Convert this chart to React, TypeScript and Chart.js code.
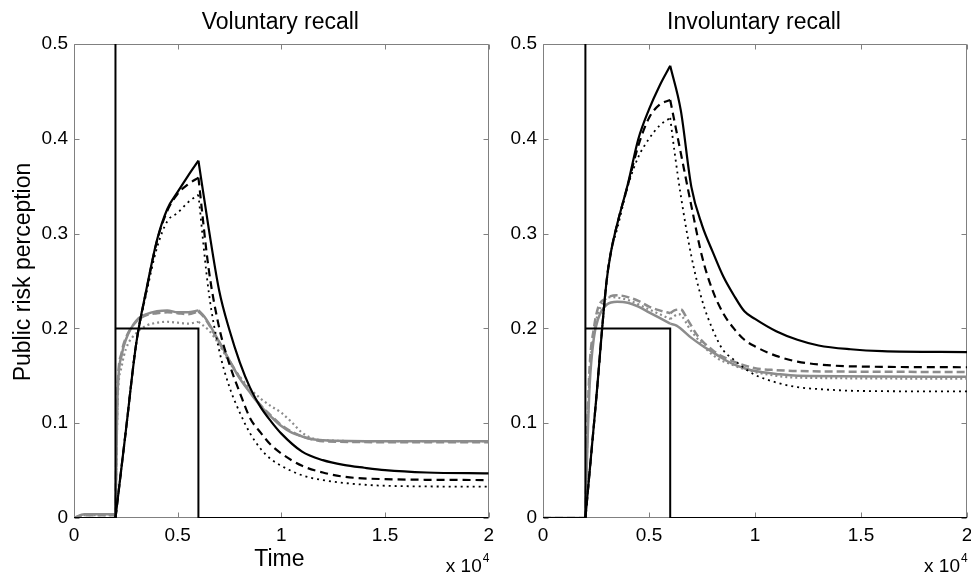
import React, { useEffect, useRef } from 'react';
import { Chart, registerables } from 'chart.js';

Chart.register(...registerables);

// ---------- text & ticks ----------
const panelTitles = ['Voluntary recall', 'Involuntary recall'];
const yAxisTitle = 'Public risk perception';
const xAxisTitle = 'Time';
const xTickValues = [0, 5000, 10000, 15000, 20000];
const xTickLabels = ['0', '0.5', '1', '1.5', '2'];
const yTickValues = [0, 0.1, 0.2, 0.3, 0.4, 0.5];
const yTickLabels = ['0', '0.1', '0.2', '0.3', '0.4', '0.5'];

// ---------- data: [time, perception] ----------
const stepSignal: [number, number][] = [
  [0, 0], [2000, 0], [2000, 0.6], [2000, 0.2], [6000, 0.2], [6000, 0], [20000, 0],
];
// times where the curves have a sharp corner (event start / end)
const cornerTimes = [2000, 6000];

// Voluntary recall
const volBlackSolid: [number, number][] = [
  [0, 0], [2000, 0], [2500, 0.092], [3000, 0.184], [3500, 0.242], [4000, 0.293], [4500, 0.326],
  [5000, 0.344], [5500, 0.361], [6000, 0.377], [6500, 0.305], [7000, 0.24], [7500, 0.198],
  [8000, 0.164], [8500, 0.137], [9000, 0.117], [9500, 0.102], [10000, 0.089], [11000, 0.07],
  [12000, 0.061], [13000, 0.056], [14000, 0.053], [15000, 0.0505], [17000, 0.048], [20000, 0.047],
];
const volBlackDashed: [number, number][] = [
  [0, 0], [2000, 0], [2500, 0.092], [3000, 0.184], [3500, 0.241], [4000, 0.292], [4500, 0.324],
  [5000, 0.342], [5500, 0.352], [6000, 0.359], [6500, 0.262], [7000, 0.201], [7500, 0.162],
  [8000, 0.132], [8500, 0.105], [9000, 0.09], [9500, 0.077], [10000, 0.068], [11000, 0.055],
  [12000, 0.048], [13000, 0.0436], [15000, 0.041], [20000, 0.04],
];
const volBlackDotted: [number, number][] = [
  [0, 0], [2000, 0], [2500, 0.092], [3000, 0.184], [3500, 0.238], [4000, 0.285], [4500, 0.313],
  [5000, 0.322], [5500, 0.333], [6000, 0.341], [6500, 0.238], [7000, 0.177], [7500, 0.138],
  [8000, 0.111], [8500, 0.089], [9000, 0.073], [9500, 0.062], [10000, 0.055], [11000, 0.045],
  [12000, 0.04], [13000, 0.037], [15000, 0.034], [20000, 0.033],
];
const volGraySolid: [number, number][] = [
  [0, 0], [500, 0.004], [2000, 0.004], [2050, 0.07], [2100, 0.13], [2300, 0.172], [2500, 0.188],
  [3000, 0.208], [3500, 0.215], [4000, 0.218], [4500, 0.219], [5000, 0.217], [5500, 0.217],
  [6000, 0.219], [6300, 0.212], [7000, 0.186], [7500, 0.166], [8000, 0.147], [8500, 0.132],
  [9000, 0.118], [9500, 0.107], [10000, 0.097], [10500, 0.09], [11000, 0.086], [11500, 0.083],
  [12000, 0.082], [15000, 0.081], [20000, 0.081],
];
const volGrayDashed: [number, number][] = [
  [0, 0], [500, 0.003], [2000, 0.003], [2050, 0.08], [2100, 0.135], [2300, 0.175], [2500, 0.19],
  [3000, 0.207], [3500, 0.214], [4000, 0.216], [4500, 0.217], [5000, 0.216], [5500, 0.215],
  [6000, 0.218], [6300, 0.211], [7000, 0.185], [7500, 0.166], [8000, 0.148], [8500, 0.133],
  [9000, 0.119], [9500, 0.108], [10000, 0.098], [10500, 0.091], [11000, 0.086], [11500, 0.083],
  [12000, 0.081], [15000, 0.08], [20000, 0.08],
];
const volGrayDotted: [number, number][] = [
  [0, 0], [500, 0.003], [2000, 0.003], [2050, 0.06], [2100, 0.12], [2300, 0.16], [2500, 0.178],
  [3000, 0.195], [3500, 0.203], [4000, 0.206], [4500, 0.207], [5000, 0.206], [5500, 0.205],
  [6000, 0.207], [6500, 0.198], [7000, 0.183], [7500, 0.164], [8000, 0.149], [8500, 0.136],
  [9000, 0.126], [9500, 0.118], [10000, 0.111], [10500, 0.101], [11000, 0.09], [11500, 0.084],
  [12000, 0.082], [15000, 0.081], [20000, 0.081],
];

// Involuntary recall
const invBlackSolid: [number, number][] = [
  [0, 0], [2000, 0], [2500, 0.123], [3000, 0.25], [3200, 0.28], [3500, 0.31], [4000, 0.352],
  [4500, 0.4], [5000, 0.431], [5500, 0.456], [6000, 0.477], [6500, 0.43], [7000, 0.349],
  [7500, 0.309], [8000, 0.281], [8500, 0.255], [9000, 0.235], [9500, 0.218], [10000, 0.21],
  [11000, 0.197], [12000, 0.188], [13000, 0.182], [14500, 0.178], [16000, 0.176], [20000, 0.175],
];
const invBlackDashed: [number, number][] = [
  [0, 0], [2000, 0], [2500, 0.123], [3000, 0.25], [3200, 0.28], [3500, 0.31], [4000, 0.351],
  [4500, 0.393], [5000, 0.422], [5500, 0.436], [6000, 0.441], [6500, 0.385], [7000, 0.329],
  [7500, 0.276], [8000, 0.24], [8500, 0.216], [9000, 0.2], [9500, 0.188], [10000, 0.181],
  [11000, 0.171], [12000, 0.165], [13000, 0.162], [14500, 0.16], [20000, 0.159],
];
const invBlackDotted: [number, number][] = [
  [0, 0], [2000, 0], [2500, 0.123], [3000, 0.25], [3200, 0.28], [3500, 0.305], [4000, 0.35],
  [4500, 0.381], [5000, 0.4], [5500, 0.414], [6000, 0.422], [6200, 0.387], [6500, 0.34],
  [7000, 0.276], [7500, 0.23], [8000, 0.199], [8500, 0.177], [9000, 0.167], [9500, 0.158],
  [10000, 0.151], [11000, 0.143], [12000, 0.138], [13000, 0.136], [15000, 0.134], [20000, 0.1335],
];
const invGraySolid: [number, number][] = [
  [0, 0], [2000, 0], [2100, 0.08], [2200, 0.14], [2400, 0.19], [2600, 0.21], [3000, 0.225],
  [3500, 0.228], [4000, 0.227], [4500, 0.223], [5000, 0.217], [5500, 0.211], [6000, 0.205],
  [6300, 0.203], [7000, 0.19], [7500, 0.182], [8000, 0.175], [8500, 0.168], [9000, 0.162],
  [9500, 0.158], [10000, 0.155], [11000, 0.152], [12000, 0.15], [20000, 0.149],
];
const invGrayDashed: [number, number][] = [
  [0, 0], [2000, 0], [2100, 0.1], [2200, 0.16], [2400, 0.2], [2600, 0.222], [3000, 0.232],
  [3500, 0.235], [4000, 0.233], [4500, 0.229], [5000, 0.223], [5500, 0.219], [6000, 0.216],
  [6200, 0.219], [6500, 0.22], [6800, 0.21], [7300, 0.192], [8000, 0.177], [8500, 0.17],
  [9000, 0.165], [9500, 0.161], [10000, 0.158], [11000, 0.156], [12000, 0.155], [20000, 0.154],
];
const invGrayDotted: [number, number][] = [
  [0, 0], [2000, 0], [2100, 0.09], [2200, 0.15], [2400, 0.195], [2700, 0.222], [3200, 0.233],
  [4000, 0.23], [5000, 0.22], [6000, 0.21], [6400, 0.215], [7000, 0.197], [8000, 0.172],
  [9000, 0.161], [10000, 0.154], [11000, 0.15], [12000, 0.148], [20000, 0.147],
];

// ---------- styles ----------
const FONT = "'Liberation Sans', Arial, Helvetica, sans-serif";
const BLACK = '#000000';
const GRAY = '#8c8c8c';
const AXIS = '#808080';

// split a series at its corner times so each piece is drawn smooth but corners stay sharp
function splitAtCorners(pairs: [number, number][]) {
  const pieces: [number, number][][] = [];
  let cur: [number, number][] = [];
  pairs.forEach((pt, i) => {
    cur.push(pt);
    const next = pairs[i + 1];
    const isCorner = cornerTimes.includes(pt[0]) && next && next[0] !== pt[0];
    if (isCorner && cur.length > 1) {
      pieces.push(cur);
      cur = [pt];
    }
  });
  if (cur.length > 1) pieces.push(cur);
  return pieces;
}

function lineSet(pairs: [number, number][], color: string, width: number, dash: number[], smooth: boolean) {
  return {
    data: pairs.map(([x, y]) => ({ x, y })),
    borderColor: color,
    backgroundColor: color,
    borderWidth: width,
    borderDash: dash,
    borderCapStyle: 'butt',
    borderJoinStyle: 'miter',
    pointRadius: 0,
    pointHoverRadius: 0,
    tension: 0,
    cubicInterpolationMode: smooth ? 'monotone' : 'default',
    fill: false,
  };
}

function curveSets(pairs: [number, number][], color: string, width: number, dash: number[]) {
  return splitAtCorners(pairs).map((piece) => lineSet(piece, color, width, dash, true));
}

function buildSets(bs: any, bd: any, bo: any, gs: any, gd: any, go: any) {
  return [
    lineSet(stepSignal, BLACK, 2, [], false),
    ...curveSets(bs, BLACK, 2.2, []),
    ...curveSets(bd, BLACK, 2.2, [8, 5]),
    ...curveSets(bo, BLACK, 1.8, [2, 4]),
    ...curveSets(gs, GRAY, 2.5, []),
    ...curveSets(gd, GRAY, 2.5, [8, 4]),
    ...curveSets(go, GRAY, 2.2, [2, 3]),
  ];
}

const decorPlugin = {
  id: 'decor',
  beforeDatasetsDraw(chart: any) {
    const { ctx, chartArea: a, scales } = chart;
    const L = Math.round(a.left) + 0.5;
    const R = Math.round(a.right) - 0.5;
    const T = Math.round(a.top) + 0.5;
    const B = Math.round(a.bottom) - 0.5;
    ctx.save();
    ctx.strokeStyle = AXIS;
    ctx.lineWidth = 1;
    ctx.beginPath();
    ctx.rect(L, T, R - L, B - T);
    scales.x.ticks.forEach((t: any) => {
      const px = Math.round(scales.x.getPixelForValue(t.value)) + 0.5;
      ctx.moveTo(px, B);
      ctx.lineTo(px, B - 5);
      ctx.moveTo(px, T);
      ctx.lineTo(px, T + 5);
    });
    scales.y.ticks.forEach((t: any) => {
      const py = Math.round(scales.y.getPixelForValue(t.value)) + 0.5;
      ctx.moveTo(L, py);
      ctx.lineTo(L + 5, py);
      ctx.moveTo(R, py);
      ctx.lineTo(R - 5, py);
    });
    ctx.stroke();
    ctx.restore();
  },
  afterDraw(chart: any, _args: any, opts: any) {
    const { ctx, chartArea: a } = chart;
    const cx = (a.left + a.right) / 2;
    ctx.save();
    ctx.fillStyle = '#000';
    ctx.textBaseline = 'alphabetic';
    ctx.textAlign = 'center';
    ctx.font = `23px ${FONT}`;
    ctx.fillText(opts.title, cx - 1, 29);
    if (opts.xLabel) ctx.fillText(opts.xLabel, cx - 2, 566);
    if (opts.yLabel) {
      ctx.save();
      ctx.translate(30, 272);
      ctx.rotate(-Math.PI / 2);
      ctx.fillText(opts.yLabel, 0, 0);
      ctx.restore();
    }
    // x 10^4 multiplier
    ctx.textAlign = 'right';
    ctx.font = `19px ${FONT}`;
    const rx = a.right - 7;
    ctx.fillText('x 10', rx, 572);
    ctx.textAlign = 'left';
    ctx.font = `12px ${FONT}`;
    ctx.fillText('4', rx + 1, 562);
    ctx.restore();
  },
};

type PanelProps = {
  left: number;
  width: number;
  rightPad: number;
  yWidth: number;
  title: string;
  yLabel?: string;
  xLabel?: string;
  sets: any[];
};

function Panel(p: PanelProps) {
  const ref = useRef<HTMLCanvasElement>(null);
  useEffect(() => {
    const tickFont = { family: FONT, size: 19 };
    const chart = new Chart(ref.current as HTMLCanvasElement, {
      type: 'line',
      data: { datasets: p.sets as any },
      plugins: [decorPlugin as any],
      options: {
        animation: false,
        responsive: false,
        maintainAspectRatio: false,
        events: [],
        layout: { padding: { left: 0, right: p.rightPad, top: 44, bottom: 0 } },
        plugins: {
          legend: { display: false },
          tooltip: { enabled: false },
          title: { display: false },
          decor: { title: p.title, yLabel: p.yLabel, xLabel: p.xLabel },
        } as any,
        scales: {
          x: {
            type: 'linear',
            min: 0,
            max: 20000,
            afterBuildTicks: (s: any) => {
              s.ticks = xTickValues.map((v) => ({ value: v }));
            },
            afterFit: (s: any) => {
              s.height = 57;
            },
            ticks: {
              autoSkip: false,
              maxRotation: 0,
              padding: 6,
              color: '#000',
              font: tickFont,
              callback: (_v: any, i: number) => xTickLabels[i],
            },
            grid: { display: false, drawTicks: false },
            border: { display: false },
          },
          y: {
            type: 'linear',
            min: 0,
            max: 0.5,
            afterBuildTicks: (s: any) => {
              s.ticks = yTickValues.map((v) => ({ value: v }));
            },
            afterFit: (s: any) => {
              s.width = p.yWidth;
            },
            ticks: {
              autoSkip: false,
              padding: 6,
              color: '#000',
              font: tickFont,
              callback: (_v: any, i: number) => yTickLabels[i],
            },
            grid: { display: false, drawTicks: false },
            border: { display: false },
          },
        },
      } as any,
    });
    return () => chart.destroy();
  }, []);
  return (
    <canvas
      ref={ref}
      width={p.width}
      height={575}
      style={{ position: 'absolute', left: p.left, top: 0, width: p.width, height: 575 }}
    />
  );
}

export default function App() {
  const volSets = buildSets(volBlackSolid, volBlackDashed, volBlackDotted, volGraySolid, volGrayDashed, volGrayDotted);
  const invSets = buildSets(invBlackSolid, invBlackDashed, invBlackDotted, invGraySolid, invGrayDashed, invGrayDotted);
  return (
    <div
      style={{
        position: 'fixed',
        left: 0,
        top: 0,
        width: 971,
        height: 575,
        overflow: 'hidden',
        background: '#fff',
      }}
    >
      <Panel left={0} width={500} rightPad={6} yWidth={74} title={panelTitles[0]} yLabel={yAxisTitle} xLabel={xAxisTitle} sets={volSets} />
      <Panel left={500} width={480} rightPad={13} yWidth={43} title={panelTitles[1]} sets={invSets} />
    </div>
  );
}
